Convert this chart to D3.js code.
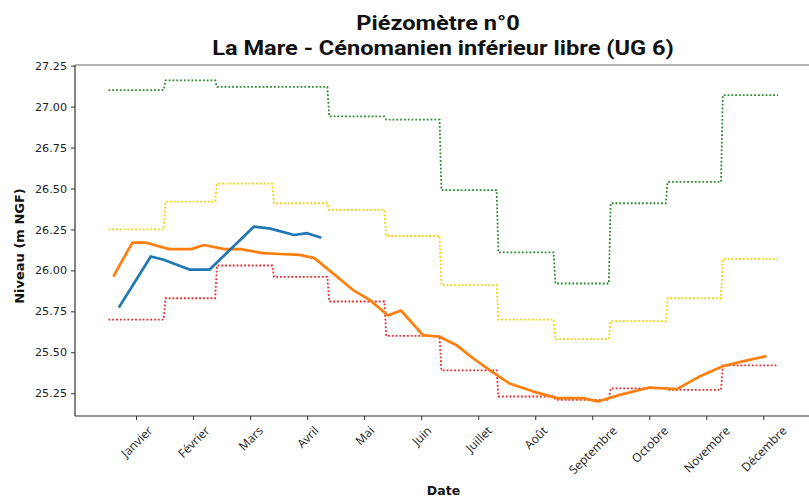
<!DOCTYPE html>
<html>
<head>
<meta charset="utf-8">
<script src="https://cdn.jsdelivr.net/npm/d3@7/dist/d3.min.js"></script>
<style>
  html, body { margin: 0; padding: 0; background: #fff; }
  svg { display: block; }
</style>
</head>
<body>
<svg id="chart" width="809" height="499"></svg>
<script>
// ---------------- data ----------------
const titleLines = ["Piézomètre n°0", "La Mare - Cénomanien inférieur libre (UG 6)"];
const xLabel = "Date";
const yLabel = "Niveau (m NGF)";

const monthNames = ["Janvier", "Février", "Mars", "Avril", "Mai", "Juin", "Juillet", "Août", "Septembre", "Octobre", "Novembre", "Décembre"];
const tickDays = [15, 46, 77, 108, 139, 170, 201, 232, 263, 294, 325, 356];
const monthStartDays = [0, 31, 59, 90, 120, 151, 181, 212, 243, 273, 304, 334, 365];
const yTicks = [25.25, 25.50, 25.75, 26.00, 26.25, 26.50, 26.75, 27.00, 27.25];

// monthly threshold levels (dotted step lines)
const greenLevels  = [27.10, 27.16, 27.12, 27.12, 26.94, 26.92, 26.49, 26.11, 25.92, 26.41, 26.54, 27.07];
const yellowLevels = [26.25, 26.42, 26.53, 26.41, 26.37, 26.21, 25.91, 25.70, 25.58, 25.69, 25.83, 26.07];
const redLevels    = [25.70, 25.83, 26.03, 25.96, 25.81, 25.60, 25.39, 25.23, 25.21, 25.28, 25.27, 25.42];

// measured series (day of year, level)
const orangeDays   = [3, 13, 20, 33, 45, 52, 63, 72, 84, 93, 104, 112, 133, 142, 152, 159, 171, 180, 189, 198, 208, 218, 231, 244, 258, 266, 278, 294, 309, 321, 334, 343, 357];
const orangeValues = [25.97, 26.17, 26.17, 26.13, 26.13, 26.155, 26.13, 26.13, 26.105, 26.10, 26.095, 26.075, 25.88, 25.82, 25.725, 25.755, 25.605, 25.595, 25.545, 25.465, 25.385, 25.31, 25.26, 25.22, 25.22, 25.20, 25.24, 25.285, 25.275, 25.35, 25.415, 25.44, 25.475];

const blueDays   = [6, 23, 30, 44, 55, 79, 88, 101, 108, 115];
const blueValues = [25.78, 26.085, 26.065, 26.005, 26.005, 26.267, 26.255, 26.216, 26.227, 26.202];

// ---------------- layout ----------------
const svg = d3.select("#chart");
const W = 809, H = 499;
const plot = { left: 75, right: 811.5, top: 65, bottom: 416 };

const x = d3.scaleLinear().domain([-18.2, 382.2]).range([plot.left, plot.right]);
const y = d3.scaleLinear().domain([25.111, 27.254]).range([plot.bottom, plot.top]);

svg.append("rect").attr("width", W).attr("height", H).attr("fill", "#fff");

svg.append("defs").append("clipPath").attr("id", "plotclip")
  .append("rect").attr("x", plot.left).attr("y", plot.top)
  .attr("width", plot.right - plot.left).attr("height", plot.bottom - plot.top);

const g = svg.append("g").attr("clip-path", "url(#plotclip)");

// step series built from monthly levels
function stepPoints(levels) {
  const pts = [];
  levels.forEach((v, i) => {
    pts.push([monthStartDays[i], v]);
    pts.push([monthStartDays[i + 1] - 1, v]);
  });
  return pts;
}
const line = d3.line().x(d => x(d[0])).y(d => y(d[1]));

const steps = [
  { levels: greenLevels, color: "#2a8a2a" },
  { levels: yellowLevels, color: "#f5d000" },
  { levels: redLevels, color: "#e8282b" }
];
steps.forEach(s => {
  g.append("path")
    .attr("d", line(stepPoints(s.levels)))
    .attr("fill", "none")
    .attr("stroke", s.color)
    .attr("stroke-width", 1.8)
    .attr("stroke-dasharray", "1.8,2.0");
});

const series = [
  { days: orangeDays, values: orangeValues, color: "#ff7f0e" },
  { days: blueDays, values: blueValues, color: "#1f77b4" }
];
series.forEach(s => {
  g.append("path")
    .attr("d", line(s.days.map((d, i) => [d, s.values[i]])))
    .attr("fill", "none")
    .attr("stroke", s.color)
    .attr("stroke-width", 2.7)
    .attr("stroke-linejoin", "round")
    .attr("stroke-linecap", "square");
});

// ---------------- axes ----------------
const yAxis = d3.axisLeft(y).tickValues(yTicks).tickFormat(d3.format(".2f")).tickSize(4).tickPadding(4);
const yG = svg.append("g").attr("transform", `translate(${plot.left},0)`).call(yAxis);
yG.select(".domain").remove();
yG.selectAll("line").attr("stroke", "#333");
yG.selectAll("text").attr("font-family", "DejaVu Sans, sans-serif").attr("font-size", 11.2).attr("fill", "#222");

const xAxis = d3.axisBottom(x).tickValues(tickDays).tickFormat((d, i) => monthNames[i]).tickSize(4);
const xG = svg.append("g").attr("transform", `translate(0,${plot.bottom})`).call(xAxis);
xG.select(".domain").remove();
xG.selectAll("line").attr("stroke", "#333");
xG.selectAll("text")
  .attr("font-family", "Open Sans, DejaVu Sans, sans-serif")
  .attr("font-size", 12)
  .attr("fill", "#222")
  .attr("text-anchor", "middle")
  .attr("dy", null)
  .attr("y", null)
  .each(function () {
    const w = this.getComputedTextLength();
    const fh = 12;
    const half = (w + fh) * Math.SQRT1_2 / 2;
    d3.select(this).attr("dominant-baseline", "central")
      .attr("transform", `translate(0,${8 + half}) rotate(-45)`);
  });

// spines (right spine lies outside the visible frame)
const spine = svg.append("g").attr("stroke", "#333").attr("stroke-width", 1.2).attr("fill", "none");
spine.append("line").attr("x1", plot.left).attr("x2", plot.left).attr("y1", plot.top).attr("y2", plot.bottom);
spine.append("line").attr("x1", plot.left).attr("x2", W).attr("y1", plot.bottom).attr("y2", plot.bottom);
spine.append("line").attr("x1", plot.left).attr("x2", W).attr("y1", plot.top).attr("y2", plot.top).attr("stroke", "#666");

// titles & labels
function stretched(text, cx, baseline, size, sx, family, weight) {
  svg.append("text")
    .attr("transform", `translate(${cx},${baseline}) scale(${sx},1)`)
    .attr("text-anchor", "middle")
    .attr("font-family", family).attr("font-weight", weight).attr("font-size", size).attr("fill", "#111")
    .text(text);
}
stretched(titleLines[0], 438, 29.5, 20, 1.18, "Roboto, sans-serif", "bold");
stretched(titleLines[1], 443, 54.5, 20, 1.18, "Roboto, sans-serif", "bold");

svg.append("text").attr("x", 443.5).attr("y", 495).attr("text-anchor", "middle")
  .attr("font-family", "DejaVu Sans, sans-serif").attr("font-weight", "bold").attr("font-size", 12.5).attr("fill", "#111")
  .text(xLabel);

svg.append("text").attr("transform", "translate(24,246) rotate(-90)").attr("text-anchor", "middle")
  .attr("font-family", "DejaVu Sans, sans-serif").attr("font-weight", "bold").attr("font-size", 13).attr("fill", "#111")
  .text(yLabel);
</script>
</body>
</html>
